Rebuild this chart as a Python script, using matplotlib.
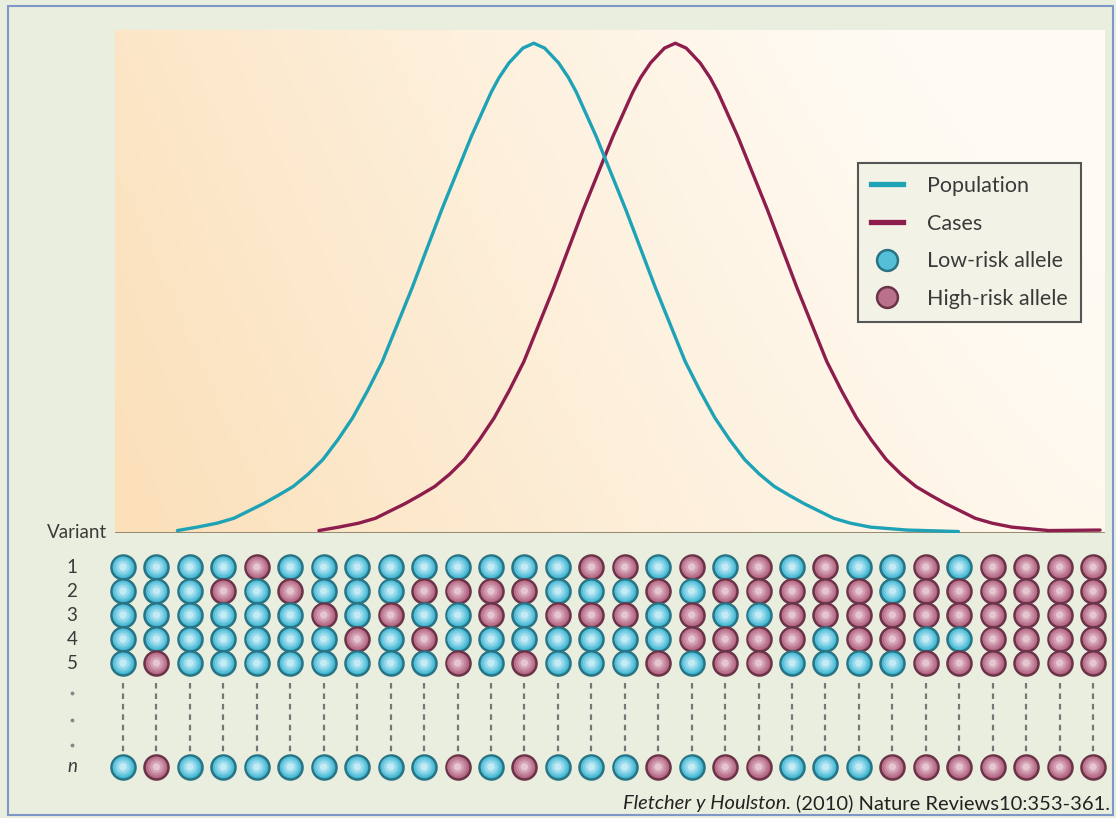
import numpy as np
import matplotlib.pyplot as plt
from matplotlib.lines import Line2D
from matplotlib.patches import Rectangle

plt.rcParams['font.family'] = ['Lato', 'DejaVu Sans']

# distribution curves (x: risk score 0-100, y: relative frequency)
pop_x = [6.3, 8.3, 10.3, 12.0, 13.5, 15.0, 16.5, 18.0, 19.5, 21.0, 22.5, 24.0, 25.5, 27.0, 28.5,
         30.0, 31.5, 33.0, 34.5, 36.0, 37.0, 38.0, 38.8, 39.8, 41.2, 42.3,
         43.4, 44.8, 45.8, 46.6, 47.6, 48.6, 50.1, 51.6, 53.1, 54.6, 56.1, 57.6, 59.1, 60.6,
         62.1, 63.6, 65.1, 66.6, 68.1, 69.6, 71.1, 72.6, 74.3, 76.3, 80.0, 85.2]
pop_y = [0.005, 0.012, 0.02, 0.03, 0.045, 0.06, 0.077, 0.095, 0.12, 0.15, 0.19, 0.235, 0.29, 0.35, 0.425,
         0.50, 0.58, 0.66, 0.735, 0.81, 0.855, 0.90, 0.93, 0.96, 0.99, 1.0,
         0.99, 0.96, 0.93, 0.90, 0.855, 0.81, 0.735, 0.66, 0.58, 0.50, 0.425, 0.35, 0.29, 0.235,
         0.19, 0.15, 0.12, 0.095, 0.077, 0.06, 0.045, 0.03, 0.02, 0.012, 0.006, 0.003]
case_x = [20.6, 22.6, 24.6, 26.3, 27.8, 29.3, 30.8, 32.3, 33.8, 35.3, 36.8, 38.3, 39.8, 41.3, 42.8,
          44.3, 45.8, 47.3, 48.8, 50.3, 51.3, 52.3, 53.1, 54.1, 55.5, 56.6,
          57.7, 59.1, 60.1, 60.9, 61.9, 62.9, 64.4, 65.9, 67.4, 68.9, 70.4, 71.9, 73.4, 74.9,
          76.4, 77.9, 79.4, 80.9, 82.4, 83.9, 85.4, 86.9, 88.6, 90.6, 94.3, 99.5]
case_y = [0.005, 0.012, 0.02, 0.03, 0.045, 0.06, 0.077, 0.095, 0.12, 0.15, 0.19, 0.235, 0.29, 0.35, 0.425,
          0.50, 0.58, 0.66, 0.735, 0.81, 0.855, 0.90, 0.93, 0.96, 0.99, 1.0,
          0.99, 0.96, 0.93, 0.90, 0.855, 0.81, 0.735, 0.66, 0.58, 0.50, 0.425, 0.35, 0.29, 0.235,
          0.19, 0.15, 0.12, 0.095, 0.077, 0.06, 0.045, 0.03, 0.02, 0.012, 0.005, 0.006]

# allele grid: 1 = high-risk allele, 0 = low-risk allele (30 individuals)
row_labels = ['1', '2', '3', '4', '5', 'n']
var1 = [0,0,0,0,1,0,0,0,0,0, 0,0,0,0,1,1,0,1,0,1, 0,1,0,0,1,0,1,1,1,1]
var2 = [0,0,0,1,0,1,0,0,0,1, 1,1,1,0,0,0,1,0,1,1, 1,1,1,0,1,1,1,1,1,1]
var3 = [0,0,0,0,0,0,1,0,1,0, 0,1,0,1,1,1,0,1,0,0, 1,1,1,1,1,1,1,1,1,1]
var4 = [0,0,0,0,0,0,0,1,0,1, 0,0,0,0,0,0,0,1,1,1, 1,0,1,1,0,0,1,1,1,1]
var5 = [0,1,0,0,0,0,0,0,0,0, 1,0,1,0,0,0,1,0,1,1, 0,0,0,0,1,1,1,1,1,1]
varn = [0,1,0,0,0,0,0,0,0,0, 1,0,1,0,0,0,1,0,1,1, 0,0,0,1,1,1,1,1,1,1]
alleles = [var1, var2, var3, var4, var5, varn]

W, H = 1116, 818
fig = plt.figure(figsize=(W / 100, H / 100), dpi=100)
fig.patch.set_facecolor('#EAEEDE')
fig.patches.append(Rectangle((8 / W, 3 / H), 1105 / W, 809 / H, transform=fig.transFigure,
                             fill=False, edgecolor='#7D98C8', lw=1.5))

# --- distribution panel ---
ax = fig.add_axes([115 / W, (H - 533) / H, 990 / W, 503 / H])
u = np.linspace(0, 1, 200)[None, :]
v = np.linspace(1, 0, 120)[:, None]
s = np.clip(0.9 * (1 - u) ** 1.3 + 0.25 * (1 - v) - 0.12, 0, 1)
peach = np.array([251, 224, 186]) / 255
light = np.array([255, 251, 244]) / 255
grad = light * (1 - s[..., None]) + peach * s[..., None]
ax.imshow(grad, extent=(0, 100, 0, 1.027), aspect='auto', zorder=0)
ax.axhline(0, color='#9A8B74', lw=2.2, zorder=1)
ax.plot(case_x, case_y, color='#8C1D4C', lw=2.4, zorder=3, solid_capstyle='round')
ax.plot(pop_x, pop_y, color='#1DA2B6', lw=2.4, zorder=3, solid_capstyle='round')
ax.set_xlim(0, 100)
ax.set_ylim(0, 1.027)
ax.axis('off')

blue = ('#2A7384', '#3DB3CE', '#55BFD8', '#74CCE2', '#98DAEC', '#C2EBF5')
red = ('#6A3448', '#B16280', '#BA718C', '#C5859D', '#D29FB2', '#E6C4D0')

handles = [
    Line2D([], [], color='#1DA2B6', lw=3.8),
    Line2D([], [], color='#8C1D4C', lw=3.8),
    Line2D([], [], ls='none', marker='o', ms=15, mfc=blue[2], mec=blue[0], mew=1.8),
    Line2D([], [], ls='none', marker='o', ms=15, mfc=red[2], mec=red[0], mew=1.8),
]
leg = fig.legend(handles, ['Population', 'Cases', 'Low-risk allele', 'High-risk allele'],
                 loc='upper left', bbox_to_anchor=(858 / W, 1 - 163 / H), borderaxespad=0,
                 fontsize=15.5, handlelength=1.5, handletextpad=1.1, labelspacing=0.82,
                 borderpad=0.6, fancybox=False, facecolor='#F3F2E6', framealpha=1,
                 edgecolor='#555555', labelcolor='#3A3A3A')
leg.get_frame().set_linewidth(1.5)

fig.text(107 / W, 1 - 533 / H, 'Variant', ha='right', va='center', fontsize=13.5, color='#3A3A3A')

# --- allele grid ---
gx = fig.add_axes([106.3 / W, (H - 785) / H, 1003.5 / W, 240 / H])
gx.set_xlim(-0.5, 29.5)
gx.set_ylim(9.0833, -0.9167)
gx.axis('off')
row_pos = [0, 1, 2, 3, 4, 8.33]
cols = np.arange(len(var1))
layers = [(300, 1), (220, 2), (150, 3), (85, 4), (30, 5)]
for yp, row in zip(row_pos, alleles):
    row = np.array(row)
    for flag, pal in ((0, blue), (1, red)):
        xs = cols[row == flag]
        ys = np.full(len(xs), yp)
        for k, (size, ci) in enumerate(layers):
            gx.scatter(xs, ys, s=size, c=pal[ci], edgecolors=pal[0] if k == 0 else 'none',
                       linewidths=1.8 if k == 0 else 0, zorder=3 + k)
for c in cols:
    gx.plot([c, c], [4.83, 7.71], color='#777777', lw=1.6, ls=(0, (2.5, 2.2)), zorder=2)

lab_x = (72 - 106.3) / 1003.5
for yp, lab in zip(row_pos, row_labels):
    gx.text(lab_x, yp, lab, transform=gx.get_yaxis_transform(), ha='center', va='center',
            fontsize=13.5, color='#3A3A3A', style='italic' if lab == 'n' else 'normal')
gx.plot([lab_x] * 3, [5.25, 6.375, 7.42], transform=gx.get_yaxis_transform(), ls='none',
        marker='o', ms=1.8, color='#888888', clip_on=False)

# --- citation ---
t2 = fig.text(1110 / W, 1 - 803 / H, '(2010) Nature Reviews10:353-361.', ha='right', va='center',
              fontsize=14.5, color='#222222')
fig.canvas.draw()
bb = t2.get_window_extent()
fig.text((bb.x0 - 5) / W, 1 - 803 / H, 'Fletcher y Houlston.', ha='right', va='center',
         fontsize=14.5, style='italic', color='#222222')

fig.savefig('out.png', dpi=100, facecolor=fig.get_facecolor())
